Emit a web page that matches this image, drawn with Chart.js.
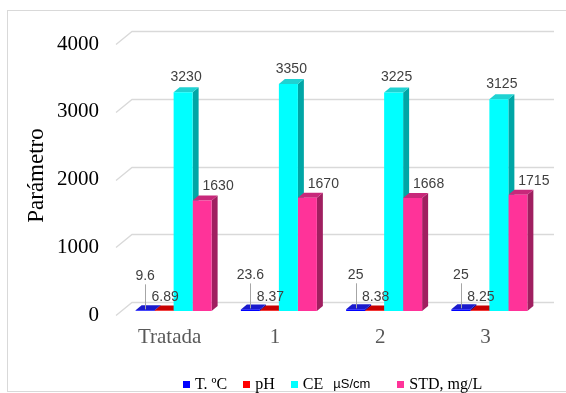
<!DOCTYPE html>
<html>
<head>
<meta charset="utf-8">
<script src="https://cdn.jsdelivr.net/npm/chart.js@4.4.1/dist/chart.umd.min.js"></script>
<style>
  html, body { margin: 0; padding: 0; background: #fff; }
  #wrap { position: relative; width: 566px; height: 393px; overflow: hidden; }
  canvas { display: block; }
  #legend {
    position: absolute; left: 183px; top: 376px;
    display: flex; align-items: center; white-space: nowrap;
    font-family: "Liberation Serif", "Times New Roman", serif; font-size: 16px; line-height: 16px; color: #000;
  }
  #legend .item { display: flex; align-items: center; margin-right: 16px; }
  #legend .swatch { width: 7px; height: 7px; margin-right: 5px; }
  #legend .unit { font-family: "Liberation Sans", Arial, sans-serif; font-size: 13px; margin-left: 10px; margin-right: 11px; }
</style>
</head>
<body>
<div id="wrap">
  <canvas id="chart" width="566" height="393"></canvas>
  <div id="legend"></div>
</div>
<script>
// Water quality parameters per sample point
const categories = ['Tratada', '1', '2', '3'];
const temperatura = [9.6, 23.6, 25, 25];
const ph = [6.89, 8.37, 8.38, 8.25];
const conductividad = [3230, 3350, 3225, 3125];
const solidos = [1630, 1670, 1668, 1715];
const yTicks = [0, 1000, 2000, 3000, 4000];
const seriesNames = ['T. ºC', 'pH', 'CE', 'STD, mg/L'];
const seriesUnits = ['', '', 'µS/cm', ''];

// front / top / side shades for the 3D columns
const shades = [
  { front: '#0000ff', top: '#1a1acc', side: '#0000a0' },
  { front: '#ff0000', top: '#c80000', side: '#a00000' },
  { front: '#00ffff', top: '#1fd2d2', side: '#00a6a6' },
  { front: '#ff3399', top: '#c8287a', side: '#a01f60' }
];

const SERIF = '"Liberation Serif", "Times New Roman", serif';
const SANS = '"Liberation Sans", Arial, sans-serif';
const DX = 6, DY = 5;          // column depth
const WALL_X = 11, WALL_Y = 9; // back wall offset of the gridlines

const frame = {
  id: 'frame',
  beforeDraw(chart) {
    const ctx = chart.ctx;
    ctx.save();
    ctx.strokeStyle = '#d9d9d9';
    ctx.lineWidth = 1;
    ctx.strokeRect(7.5, 10.5, 600, 381);
    ctx.restore();
  }
};

const wallGrid = {
  id: 'wallGrid',
  beforeDatasetsDraw(chart) {
    const ctx = chart.ctx, ys = chart.scales.y, area = chart.chartArea;
    ctx.save();
    ctx.strokeStyle = '#d9d9d9';
    ctx.lineWidth = 1.3;
    yTicks.forEach(v => {
      const yy = Math.round(ys.getPixelForValue(v)) + 0.5;
      ctx.beginPath();
      ctx.moveTo(area.left - 5, yy + 4);
      ctx.lineTo(area.left + WALL_X, yy - WALL_Y);
      ctx.lineTo(area.right + 12, yy - WALL_Y);
      ctx.stroke();
    });
    ctx.restore();
  }
};

const extrude = {
  id: 'extrude',
  beforeDatasetsDraw(chart) {
    const ctx = chart.ctx;
    ctx.save();
    chart.data.datasets.forEach((ds, i) => {
      const sh = shades[i];
      chart.getDatasetMeta(i).data.forEach(bar => {
        const { x, y, base, width } = bar.getProps(['x', 'y', 'base', 'width'], true);
        const l = x - width / 2, r = x + width / 2;
        ctx.fillStyle = sh.side;
        ctx.beginPath();
        ctx.moveTo(r, y); ctx.lineTo(r + DX, y - DY);
        ctx.lineTo(r + DX, base - DY); ctx.lineTo(r, base);
        ctx.closePath(); ctx.fill();
        ctx.fillStyle = sh.top;
        ctx.beginPath();
        ctx.moveTo(l, y); ctx.lineTo(l + DX, y - DY);
        ctx.lineTo(r + DX, y - DY); ctx.lineTo(r, y);
        ctx.closePath(); ctx.fill();
      });
    });
    ctx.restore();
  }
};

const valueLabels = {
  id: 'valueLabels',
  afterDatasetsDraw(chart) {
    const ctx = chart.ctx;
    ctx.save();
    ctx.font = '14px ' + SANS;
    ctx.fillStyle = '#404040';
    ctx.textAlign = 'center';
    ctx.textBaseline = 'middle';
    chart.data.datasets.forEach((ds, i) => {
      chart.getDatasetMeta(i).data.forEach((bar, j) => {
        const { x, y } = bar.getProps(['x', 'y'], true);
        const txt = String(ds.data[j]);
        let lx = x, ly = y;
        if (i === 0) {
          ly = y - 34;
          ctx.strokeStyle = '#a6a6a6';
          ctx.lineWidth = 1;
          ctx.beginPath();
          ctx.moveTo(Math.round(x) + 0.5, ly + 8);
          ctx.lineTo(Math.round(x) + 0.5, y - 1);
          ctx.stroke();
        } else if (i === 1) {
          lx = x + 1; ly = y - 13;
        } else if (i === 2) {
          lx = x + 3; ly = y - 15;
        } else {
          lx = x + 16; ly = y - 14;
        }
        ctx.fillText(txt, lx, ly);
      });
    });
    ctx.restore();
  }
};

const series = [temperatura, ph, conductividad, solidos];

new Chart(document.getElementById('chart'), {
  type: 'bar',
  data: {
    labels: categories,
    datasets: series.map((values, i) => ({
      label: seriesNames[i],
      data: values,
      backgroundColor: shades[i].front,
      borderWidth: 0
    }))
  },
  options: {
    responsive: false,
    animation: false,
    devicePixelRatio: 1,
    layout: { padding: { left: 0, right: 24, top: 40, bottom: 0 } },
    datasets: { bar: { barPercentage: 1, categoryPercentage: 0.722 } },
    plugins: { legend: { display: false }, tooltip: { enabled: false } },
    scales: {
      x: {
        grid: { display: false, drawTicks: false },
        border: { display: false },
        ticks: { font: { family: SERIF, size: 21 }, color: '#595959', padding: 14, labelOffset: -4 },
        afterFit(s) { s.height = 82; }
      },
      y: {
        min: 0, max: 4000,
        afterBuildTicks(s) { s.ticks = yTicks.map(v => ({ value: v })); },
        grid: { display: false, drawTicks: false },
        border: { display: false },
        ticks: {
          font: { family: SERIF, size: 21 }, color: '#000', padding: 22, labelOffset: 4,
          callback: v => String(v)
        },
        title: {
          display: true, text: 'Parámetro', color: '#000',
          font: { family: SERIF, size: 23 }, padding: { top: 23, bottom: 0 }
        },
        afterFit(s) { s.width = 121; }
      }
    }
  },
  plugins: [frame, wallGrid, extrude, valueLabels]
});

// legend
const legend = document.getElementById('legend');
seriesNames.forEach((name, i) => {
  const item = document.createElement('span');
  item.className = 'item';
  const sw = document.createElement('span');
  sw.className = 'swatch';
  sw.style.background = shades[i].front;
  const tx = document.createElement('span');
  tx.textContent = name;
  item.appendChild(sw);
  item.appendChild(tx);
  if (seriesUnits[i]) {
    const u = document.createElement('span');
    u.className = 'unit';
    u.textContent = seriesUnits[i];
    item.appendChild(u);
  }
  legend.appendChild(item);
});
</script>
</body>
</html>
